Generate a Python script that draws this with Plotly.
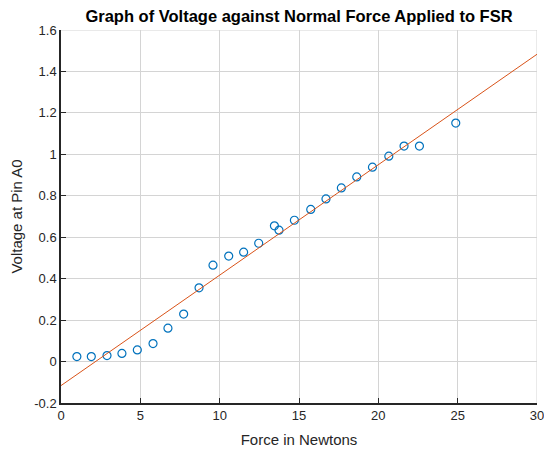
import plotly.graph_objects as go

force = [1.0, 1.91, 2.9, 3.84, 4.81, 5.8, 6.74, 7.73, 8.7, 9.58, 10.57, 11.51, 12.46,
         13.45, 13.74, 14.71, 15.74, 16.7, 17.67, 18.64, 19.63, 20.66, 21.62, 22.59, 24.88]
voltage = [0.024, 0.024, 0.029, 0.039, 0.056, 0.087, 0.161, 0.229, 0.356, 0.465, 0.509, 0.528, 0.571,
           0.655, 0.634, 0.682, 0.734, 0.785, 0.838, 0.891, 0.938, 0.991, 1.040, 1.040, 1.151]
fit_x = [0, 30]
fit_y = [-0.116, 1.483]

x_ticks = [0, 5, 10, 15, 20, 25, 30]
y_ticks = [-0.2, 0, 0.2, 0.4, 0.6, 0.8, 1, 1.2, 1.4, 1.6]
y_ticklabels = ["-0.2", "0", "0.2", "0.4", "0.6", "0.8", "1", "1.2", "1.4", "1.6"]

grid_color = "#d4d4d4"
axis_color = "#262626"

fig = go.Figure()
fig.add_trace(go.Scatter(x=force, y=voltage, mode="markers",
                         marker=dict(symbol="circle-open", size=8, color="#0072BD",
                                     line=dict(width=1.2, color="#0072BD")),
                         showlegend=False, cliponaxis=False))
fig.add_trace(go.Scatter(x=fit_x, y=fit_y, mode="lines",
                         line=dict(color="#D95319", width=1), showlegend=False))

# edge gridlines (at the last tick of each axis) that plotly omits at the range boundary
fig.add_shape(type="line", xref="x", yref="paper", x0=x_ticks[-1], x1=x_ticks[-1], y0=0, y1=1,
              line=dict(color=grid_color, width=1), layer="below")
fig.add_shape(type="line", xref="paper", yref="y", x0=0, x1=1, y0=y_ticks[-1], y1=y_ticks[-1],
              line=dict(color=grid_color, width=1), layer="below")

font_family = "Liberation Sans, Arial, sans-serif"
fig.update_layout(
    width=544, height=453,
    margin=dict(l=61, r=7, t=30, b=50),
    paper_bgcolor="white", plot_bgcolor="white",
    font=dict(family=font_family, color=axis_color, size=13),
    title=dict(text="<b>Graph of Voltage against Normal Force Applied to FSR</b>",
               x=0.5, xanchor="center", xref="paper", y=1 - 16.5 / 453, yanchor="middle",
               font=dict(size=16.5, color="black", family=font_family)),
    xaxis=dict(range=[0, 30], tickvals=x_ticks, ticktext=[str(t) for t in x_ticks],
               showgrid=True, gridcolor=grid_color, gridwidth=1,
               showline=True, linecolor=axis_color, linewidth=1.5,
               ticks="inside", ticklen=5, tickcolor=axis_color, tickwidth=1,
               zeroline=False, mirror=False, ticklabeloverflow="allow",
               automargin="bottom",
               title=dict(text="Force in Newtons", font=dict(size=15, color=axis_color), standoff=12),
               tickfont=dict(size=13, color=axis_color)),
    yaxis=dict(range=[-0.2, 1.6], tickvals=y_ticks, ticktext=y_ticklabels,
               showgrid=True, gridcolor=grid_color, gridwidth=1,
               showline=True, linecolor=axis_color, linewidth=1.5,
               ticks="inside", ticklen=5, tickcolor=axis_color, tickwidth=1,
               zeroline=False, mirror=False, ticklabeloverflow="allow",
               automargin="left",
               title=dict(text="Voltage at Pin A0", font=dict(size=15, color=axis_color), standoff=8),
               tickfont=dict(size=13, color=axis_color)),
)

fig.write_html("out.html")
